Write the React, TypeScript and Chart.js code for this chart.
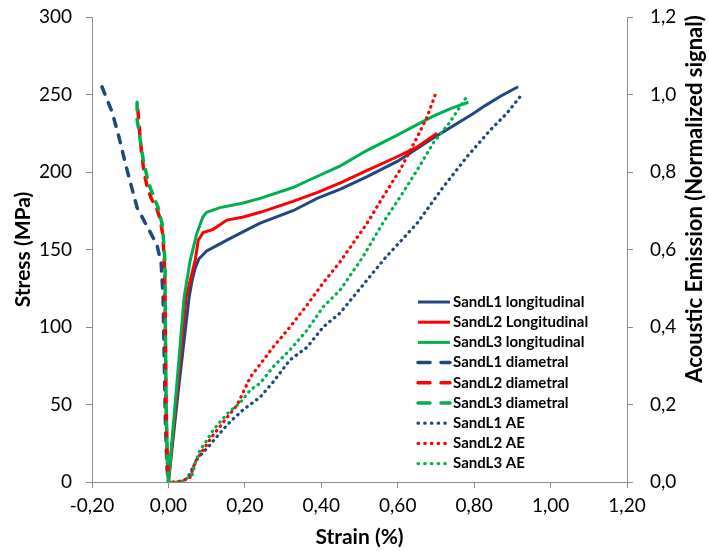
import React, { useEffect, useRef } from 'react';
import { Chart, registerables } from 'chart.js';

Chart.register(...registerables);

const NAVY = '#1F497D';
const RED = '#FF0000';
const GREEN = '#00B050';

const seriesNames = [
  'SandL1 longitudinal',
  'SandL2 Longitudinal',
  'SandL3 longitudinal',
  'SandL1 diametral',
  'SandL2 diametral',
  'SandL3 diametral',
  'SandL1 AE',
  'SandL2 AE',
  'SandL3 AE',
];

const xTickMin = -0.2;
const xTickMax = 1.2;
const xTickStep = 0.2;
const stressMax = 300;
const stressStep = 50;
const aeMax = 1.2;
const aeStep = 0.2;

// Longitudinal (strain %, stress MPa)
const l1LongStrain = [0, 0.025, 0.054, 0.062, 0.07, 0.08, 0.1, 0.13, 0.153, 0.2, 0.24, 0.326, 0.389, 0.45, 0.52, 0.6, 0.65, 0.7, 0.78, 0.8, 0.83, 0.87, 0.915];
const l1LongStress = [0, 57, 119, 130, 138, 144, 149, 153, 156, 162, 167, 175, 183, 189, 197, 207, 215, 223, 235, 238, 243, 249, 255];

const l2LongStrain = [0, 0.025, 0.046, 0.07, 0.078, 0.091, 0.117, 0.153, 0.196, 0.24, 0.326, 0.392, 0.45, 0.52, 0.6, 0.65, 0.703];
const l2LongStress = [0, 65, 119, 143, 156, 161, 163, 169, 171, 174, 181, 187, 193, 201, 210, 216, 225];

const l3LongStrain = [0, 0.025, 0.041, 0.057, 0.074, 0.09, 0.1, 0.135, 0.196, 0.24, 0.326, 0.37, 0.45, 0.52, 0.6, 0.693, 0.74, 0.785];
const l3LongStress = [0, 72, 119, 143, 160, 171, 174, 177, 180, 183, 190, 195, 204, 214, 224, 236, 241, 245];

// Diametral (strain %, stress MPa)
const l1DiaStrain = [-0.174, -0.148, -0.132, -0.108, -0.082, -0.056, -0.03, -0.019, -0.014, -0.011, -0.008, -0.004, 0];
const l1DiaStress = [255, 239, 225, 201, 177, 165, 153, 141, 120, 80, 40, 10, 0];

const l2DiaStrain = [-0.08, -0.074, -0.07, -0.064, -0.055, -0.045, -0.03, -0.022, -0.015, -0.012, -0.01, -0.008, -0.006, -0.003, 0];
const l2DiaStress = [240, 222, 212, 200, 190, 183, 176, 170, 160, 148, 138, 100, 50, 15, 0];

const l3DiaStrain = [-0.082, -0.082, -0.074, -0.066, -0.056, -0.048, -0.035, -0.027, -0.017, -0.012, -0.009, -0.008, -0.006, -0.003, 0];
const l3DiaStress = [245, 234, 221, 208, 197, 190, 182, 177, 167, 154, 142, 100, 50, 15, 0];

// Acoustic emission (strain %, normalized signal)
const l1AEStrain = [0.03, 0.05, 0.077, 0.104, 0.13, 0.161, 0.195, 0.24, 0.274, 0.318, 0.363, 0.405, 0.449, 0.567, 0.651, 0.719, 0.781, 0.842, 0.886, 0.92];
const l1AEValue = [0, 0.01, 0.062, 0.09, 0.121, 0.155, 0.186, 0.219, 0.258, 0.315, 0.348, 0.4, 0.436, 0.578, 0.668, 0.761, 0.839, 0.908, 0.952, 0.994];

const l2AEStrain = [0.012, 0.036, 0.056, 0.07, 0.091, 0.117, 0.148, 0.18, 0.214, 0.274, 0.318, 0.363, 0.405, 0.449, 0.52, 0.561, 0.606, 0.651, 0.677, 0.698];
const l2AEValue = [0, 0.003, 0.01, 0.052, 0.083, 0.121, 0.16, 0.199, 0.27, 0.348, 0.4, 0.457, 0.514, 0.568, 0.668, 0.735, 0.805, 0.89, 0.942, 0.999];

const l3AEStrain = [0.005, 0.022, 0.038, 0.062, 0.07, 0.083, 0.101, 0.117, 0.135, 0.156, 0.187, 0.214, 0.24, 0.274, 0.318, 0.363, 0.405, 0.449, 0.507, 0.561, 0.606, 0.651, 0.693, 0.737, 0.763, 0.784];
const l3AEValue = [0, 0, 0.003, 0.018, 0.049, 0.083, 0.108, 0.134, 0.155, 0.178, 0.204, 0.237, 0.255, 0.297, 0.341, 0.392, 0.452, 0.495, 0.578, 0.668, 0.735, 0.805, 0.875, 0.929, 0.968, 0.999];

const toPoints = (xs: number[], ys: number[]) => xs.map((x, i) => ({ x, y: ys[i] }));
const comma = (v: number, d: number) => (Math.abs(v) < 1e-9 ? 0 : v).toFixed(d).replace('.', ',');

const FONT = 'Lato';

const legendPlugin = {
  id: 'insideLegend',
  afterDraw(chart: any) {
    const ctx = chart.ctx;
    const area = chart.chartArea;
    const x0 = area.left + 326;
    const x1 = x0 + 32;
    const tx = x1 + 3;
    const y0 = area.top + 285;
    const dy = 20.2;
    chart.data.datasets.forEach((ds: any, i: number) => {
      const y = y0 + i * dy;
      ctx.save();
      ctx.strokeStyle = ds.borderColor;
      ctx.lineWidth = ds.borderWidth;
      ctx.lineCap = ds.borderCapStyle || 'butt';
      ctx.setLineDash(ds.legendDash || ds.borderDash || []);
      ctx.beginPath();
      ctx.moveTo(x0, y);
      ctx.lineTo(x1, y);
      ctx.stroke();
      ctx.setLineDash([]);
      ctx.fillStyle = '#000';
      ctx.font = `bold 15px ${FONT}`;
      ctx.textBaseline = 'middle';
      ctx.textAlign = 'left';
      ctx.fillText(ds.label, tx, y);
      ctx.restore();
    });
  },
};

const rightTitlePlugin = {
  id: 'rightTitle',
  afterDraw(chart: any) {
    const ctx = chart.ctx;
    ctx.save();
    ctx.translate(695, 199);
    ctx.rotate(-Math.PI / 2);
    ctx.fillStyle = '#000';
    ctx.font = `bold 22px ${FONT}`;
    ctx.textAlign = 'center';
    ctx.textBaseline = 'middle';
    ctx.fillText('Acoustic Emission (Normalized signal)', 0, 0);
    ctx.restore();
  },
};

const solid = (label: string, color: string, xs: number[], ys: number[]) => ({
  label, data: toPoints(xs, ys), borderColor: color, backgroundColor: color,
  borderWidth: 3, borderCapStyle: 'butt', borderDash: [], yAxisID: 'y',
});
const dashed = (label: string, color: string, xs: number[], ys: number[]) => ({
  label, data: toPoints(xs, ys), borderColor: color, backgroundColor: color,
  borderWidth: 3.5, borderCapStyle: 'round', borderDash: [8, 9], legendDash: [12, 11], yAxisID: 'y',
});
const dotted = (label: string, color: string, xs: number[], ys: number[]) => ({
  label, data: toPoints(xs, ys), borderColor: color, backgroundColor: color,
  borderWidth: 3.2, borderCapStyle: 'round', borderDash: [0.5, 5.5], legendDash: [0.5, 6.2], yAxisID: 'y2',
});

const zeroPad = (s: any) => {
  s.paddingTop = 0;
  s.paddingBottom = 0;
  s.paddingLeft = 0;
  s.paddingRight = 0;
};

export default function App() {
  const ref = useRef<HTMLCanvasElement | null>(null);
  useEffect(() => {
    document.body.style.margin = '0';
    const datasets: any[] = [
      solid(seriesNames[0], NAVY, l1LongStrain, l1LongStress),
      solid(seriesNames[1], RED, l2LongStrain, l2LongStress),
      solid(seriesNames[2], GREEN, l3LongStrain, l3LongStress),
      dashed(seriesNames[3], NAVY, l1DiaStrain, l1DiaStress),
      dashed(seriesNames[4], RED, l2DiaStrain, l2DiaStress),
      dashed(seriesNames[5], GREEN, l3DiaStrain, l3DiaStress),
      dotted(seriesNames[6], NAVY, l1AEStrain, l1AEValue),
      dotted(seriesNames[7], RED, l2AEStrain, l2AEValue),
      dotted(seriesNames[8], GREEN, l3AEStrain, l3AEValue),
    ].map((d, i) => ({ ...d, order: 9 - i, pointRadius: 0, tension: 0, fill: false }));

    const axisColor = '#8C8C8C';
    const chart = new Chart(ref.current as HTMLCanvasElement, {
      type: 'line',
      data: { datasets },
      plugins: [legendPlugin, rightTitlePlugin],
      options: {
        animation: false,
        responsive: false,
        layout: { padding: { top: 17, left: 0, right: 0, bottom: 0 } },
        plugins: { legend: { display: false }, tooltip: { enabled: false } },
        scales: {
          x: {
            type: 'linear',
            min: xTickMin,
            max: xTickMax,
            afterFit: (s: any) => { s.height = 69; zeroPad(s); },
            ticks: {
              stepSize: xTickStep,
              callback: (v: any) => comma(Number(v), 2),
              font: { family: FONT, size: 19 },
              color: '#000',
              padding: 6,
              maxRotation: 0,
            },
            grid: { drawOnChartArea: false, drawTicks: true, tickLength: 6, color: axisColor },
            border: { display: true, color: axisColor },
            title: {
              display: true, text: 'Strain (%)', color: '#000',
              font: { family: FONT, size: 21, weight: 'bold' },
              padding: { top: 0, bottom: 1 },
            },
          },
          y: {
            type: 'linear',
            position: 'left',
            min: 0,
            max: stressMax,
            afterFit: (s: any) => { s.width = 92; zeroPad(s); },
            ticks: {
              stepSize: stressStep,
              font: { family: FONT, size: 19 },
              color: '#000',
              padding: 14,
            },
            grid: { drawOnChartArea: false, drawTicks: true, tickLength: 6, color: axisColor },
            border: { display: true, color: axisColor },
            title: {
              display: true, text: 'Stress (MPa)', color: '#000',
              font: { family: FONT, size: 21, weight: 'bold' },
              padding: { top: 11, bottom: 0 },
            },
          },
          y2: {
            type: 'linear',
            position: 'right',
            min: 0,
            max: aeMax,
            afterFit: (s: any) => { s.width = 82; zeroPad(s); },
            ticks: {
              stepSize: aeStep,
              callback: (v: any) => comma(Number(v), 1),
              font: { family: FONT, size: 19 },
              color: '#000',
              padding: 17,
            },
            grid: { drawOnChartArea: false, drawTicks: true, tickLength: 6, color: axisColor },
            border: { display: true, color: axisColor },
          },
        },
      } as any,
    });
    return () => chart.destroy();
  }, []);

  return (
    <div style={{ position: 'absolute', left: 0, top: 0, width: 709, height: 551, background: '#fff' }}>
      <canvas ref={ref} width={709} height={551} />
    </div>
  );
}
